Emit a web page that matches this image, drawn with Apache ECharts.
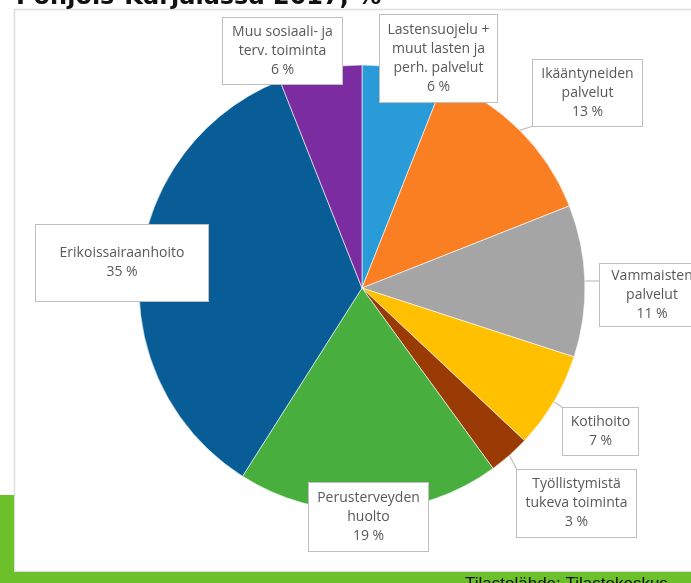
<!DOCTYPE html>
<html><head><meta charset="utf-8">
<script src="https://cdn.jsdelivr.net/npm/echarts@6/dist/echarts.min.js"></script>
<style>html,body{margin:0;padding:0;background:#fff;overflow:hidden}#c{width:691px;height:583px}</style>
</head><body><div id="c"></div>
<script>
// ---- data ----
const categories = [
  'Lastensuojelu +\nmuut lasten ja\nperh. palvelut',
  'Ikääntyneiden\npalvelut',
  'Vammaisten\npalvelut',
  'Kotihoito',
  'Työllistymistä\ntukeva toiminta',
  'Perusterveyden\nhuolto',
  'Erikoissairaanhoito',
  'Muu sosiaali- ja\nterv. toiminta'
];
const values = [6, 13, 11, 7, 3, 19, 35, 6];
const titleText = 'Pohjois-Karjalassa 2017, %';
const sourceText = 'Tilastolähde: Tilastokeskus';

// ---- styles / layout ----
const colors = ['#2a9bd9', '#f97f22', '#a5a5a5', '#ffc000', '#9a3b06', '#48ae3e', '#085d96', '#7b2ca0'];
const labelBoxes = [
  {x: 380, y: 15,  w: 117, h: 87, line: false},
  {x: 533, y: 60,  w: 109, h: 66, line: true},
  {x: 600, y: 264, w: 104, h: 62, line: true},
  {x: 563, y: 408, w: 75,  h: 47, line: true},
  {x: 517, y: 470, w: 119, h: 67, line: true},
  {x: 309, y: 483, w: 119, h: 68, line: false},
  {x: 36,  y: 225, w: 172, h: 76, line: false},
  {x: 223, y: 18,  w: 119, h: 66, line: false}
];
const LH = 19;
const GREEN = '#6cc02a';

const chart = echarts.init(document.getElementById('c'), null, {renderer: 'canvas'});

const data = categories.map((name, i) => {
  const b = labelBoxes[i];
  const n = name.split('\n').length + 1;
  const padT = Math.max(0, (b.h - n * LH) / 2);
  return {
    name: name,
    value: values[i],
    itemStyle: {color: colors[i]},
    label: {width: b.w, padding: [padT, 0, b.h - n * LH - padT, 0]},
    labelLine: {show: b.line}
  };
});

chart.setOption({
  backgroundColor: '#ffffff',
  animation: false,
  graphic: [
    {type: 'rect', z: -20, shape: {x: 14.5, y: 9.5, width: 700, height: 562},
     style: {fill: '#ffffff', stroke: '#dedede', lineWidth: 1.5}},
    {type: 'rect', z: -10, shape: {x: 0, y: 495, width: 14, height: 88}, style: {fill: GREEN}},
    {type: 'rect', z: -10, shape: {x: 0, y: 572, width: 691, height: 11}, style: {fill: GREEN}},
    {type: 'text', z: 10, x: 16, y: 10,
     style: {text: titleText, fill: '#111', font: 'bold 24px "DejaVu Sans"', textAlign: 'left', textVerticalAlign: 'bottom'}},
    {type: 'text', z: 10, x: 465, y: 576,
     style: {text: sourceText, fill: '#111', font: '17px "Liberation Sans"', textAlign: 'left', textVerticalAlign: 'top'}}
  ],
  series: [{
    type: 'pie',
    center: [362, 288],
    radius: 223,
    startAngle: 90,
    clockwise: true,
    avoidLabelOverlap: false,
    itemStyle: {borderColor: '#ffffff', borderWidth: 0.6},
    label: {
      show: true,
      position: 'outside',
      formatter: p => p.name + '\n' + p.value + ' %',
      color: '#595959',
      fontFamily: 'Open Sans',
      fontSize: 14,
      lineHeight: LH,
      align: 'center',
      backgroundColor: '#ffffff',
      borderColor: '#bfbfbf',
      borderWidth: 1
    },
    labelLine: {show: true, length: 4, length2: 4, smooth: false,
      lineStyle: {color: '#bfbfbf', width: 1.2}},
    labelLayout: function (p) {
      const b = labelBoxes[p.dataIndex];
      const out = {x: b.x + b.w / 2, y: b.y, align: 'center', verticalAlign: 'top'};
      if (b.line && p.labelLinePoints && p.labelLinePoints.length) {
        const a = p.labelLinePoints[0];
        const bx = Math.min(Math.max(a[0], b.x), b.x + b.w);
        const by = Math.min(Math.max(a[1], b.y), b.y + b.h);
        out.labelLinePoints = [[a[0], a[1]], [a[0], a[1]], [bx, by]];
      }
      return out;
    },
    data: data
  }]
});
</script>
</body></html>
